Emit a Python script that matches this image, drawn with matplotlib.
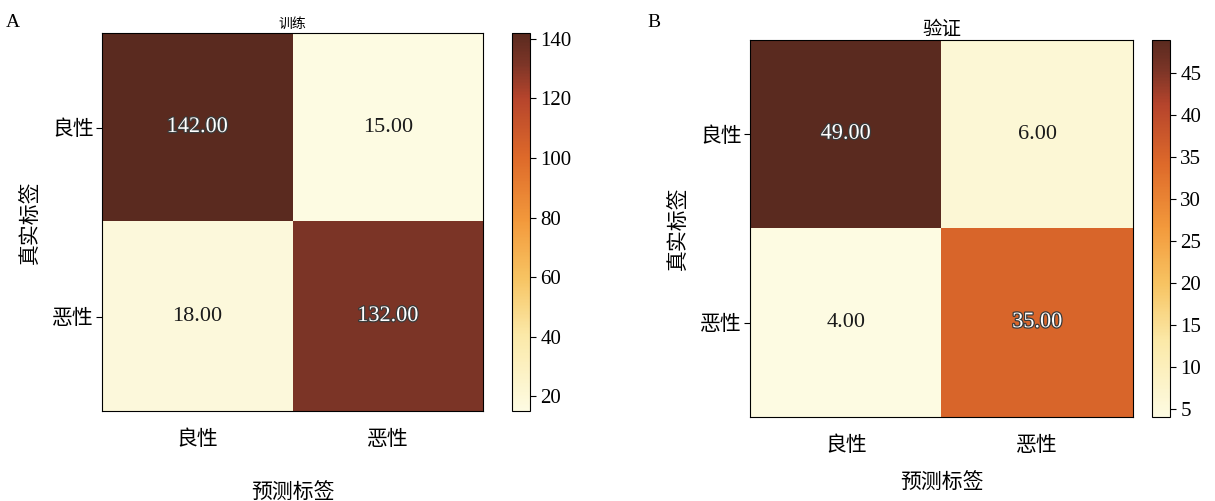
import numpy as np
import matplotlib
matplotlib.use("Agg")
import matplotlib.pyplot as plt
import matplotlib.patheffects as pe
from matplotlib.colors import LinearSegmentedColormap

plt.rcParams['font.family'] = ['Liberation Serif', 'Noto Sans CJK SC']

class_labels = ["良性", "恶性"]
train_cm = np.array([[142, 15],
                     [18, 132]])
valid_cm = np.array([[49, 6],
                     [4, 35]])
train_ticks = [20, 40, 60, 80, 100, 120, 140]
valid_ticks = [5, 10, 15, 20, 25, 30, 35, 40, 45]

# Warm cream-to-brown colour ramp
cmap = LinearSegmentedColormap.from_list("cream_brown", [
    (0.00, "#fdfbe2"),
    (0.20, "#fbe9a8"),
    (0.35, "#f7c463"),
    (0.50, "#f39a3c"),
    (0.67, "#de6a2a"),
    (0.83, "#b5442c"),
    (0.92, "#7c3527"),
    (1.00, "#5a2a1f"),
])

fig = plt.figure(figsize=(12.15, 5.01), dpi=100)


def draw_panel(ax_rect, cb_rect, cm, ticks, title, title_size, letter, letter_xy,
               xlabel_pad):
    ax = fig.add_axes(ax_rect)
    cax = fig.add_axes(cb_rect)
    im = ax.imshow(cm, cmap=cmap, interpolation="nearest", aspect="auto",
                   vmin=cm.min(), vmax=cm.max())
    ax.set_xticks(range(len(class_labels)))
    ax.set_yticks(range(len(class_labels)))
    ax.set_xticklabels(class_labels, fontsize=15)
    ax.set_yticklabels(class_labels, fontsize=15)
    ax.tick_params(axis="x", length=0, pad=14)
    ax.tick_params(axis="y", length=4, pad=2)
    ax.set_title(title, fontsize=title_size, pad=4)
    ax.set_xlabel("预测标签", fontsize=15, labelpad=xlabel_pad)
    ax.set_ylabel("真实标签", fontsize=15, labelpad=8)
    for s in ax.spines.values():
        s.set_linewidth(0.8)
    thresh = cm.max() / 2.0
    for i in range(cm.shape[0]):
        for j in range(cm.shape[1]):
            v = cm[i, j]
            if v > thresh:
                ax.text(j, i, f"{v:.2f}", ha="center", va="center", fontsize=16,
                        color="white",
                        path_effects=[pe.withStroke(linewidth=1.8, foreground="#3a3a3a")])
            else:
                ax.text(j, i, f"{v:.2f}", ha="center", va="center", fontsize=16,
                        color="#1a1a1a")
    cb = fig.colorbar(im, cax=cax, ticks=ticks)
    cb.ax.tick_params(labelsize=15, length=4)
    cb.outline.set_linewidth(0.8)
    fig.text(letter_xy[0], letter_xy[1], letter, fontsize=14, ha="left", va="center")
    return ax


draw_panel([0.0840, 0.1796, 0.3136, 0.7545], [0.4214, 0.1796, 0.0148, 0.7545],
           train_cm, train_ticks, "训练", 10, "A", (0.005, 0.955), 24)
draw_panel([0.6173, 0.1677, 0.3152, 0.7525], [0.9481, 0.1677, 0.0148, 0.7525],
           valid_cm, valid_ticks, "验证", 14, "B", (0.533, 0.955), 12)

fig.savefig("out.png", dpi=100)
